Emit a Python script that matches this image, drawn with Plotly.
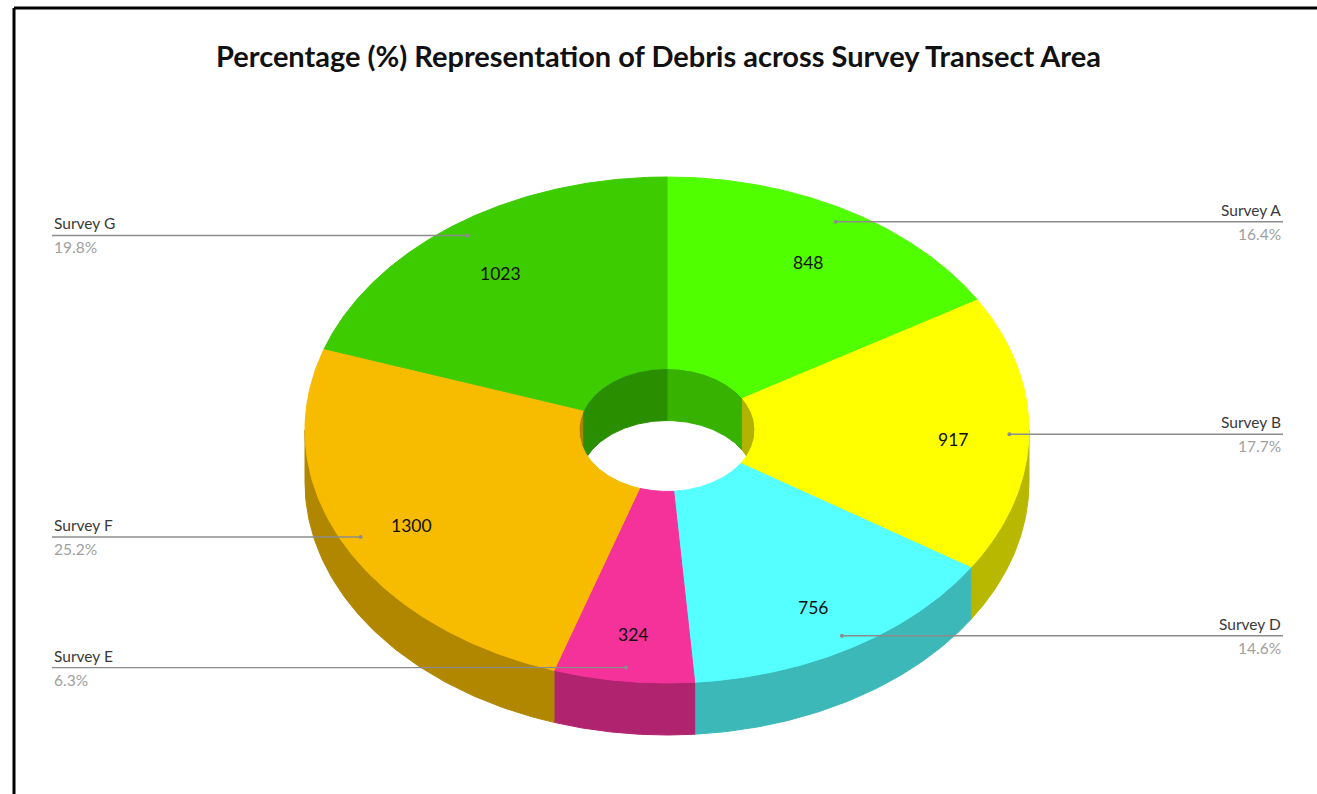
import numpy as np
import plotly.graph_objects as go

# Debris counts per survey transect (clockwise from 12 o'clock)
surveys = ["Survey A", "Survey B", "Survey D", "Survey E", "Survey F", "Survey G"]
debris = [848, 917, 756, 324, 1300, 1023]
top_colors = ["#50FF00", "#FFFF00", "#55FFFF", "#F5319A", "#F7BB00", "#3CCC00"]

W, H = 1317, 794
CX, CY = 667, 430          # centre of the donut's top face
RX, RY = 362, 253          # outer radii of the tilted (elliptical) face
HOLE = 0.243               # inner radius as fraction of outer
DEPTH = 52                 # thickness of the extruded ring
SHADE = 0.72               # darkening factor for side walls
LABEL_R = 0.79             # radius fraction for value labels
LABEL_DY = 6               # downward nudge of value labels
LEADER_R = 0.946           # radius fraction for leader-line anchors
LEFT_X, RIGHT_X = 52, 1283

total = sum(debris)
bounds = np.concatenate([[0.0], np.cumsum(debris) / total]) * 360.0


def pt(theta, r, dz=0.0):
    t = np.radians(theta)
    return CX + r * RX * np.sin(t), CY - r * RY * np.cos(t) + dz


def shade(hexcol, f=SHADE):
    h = hexcol.lstrip("#")
    rgb = [int(h[i:i + 2], 16) for i in (0, 2, 4)]
    return "#" + "".join(f"{int(round(c * f)):02X}" for c in rgb)


def wall(lo, hi, r):
    ts = np.linspace(lo, hi, 80)
    x1, y1 = pt(ts, r)
    x2, y2 = pt(ts[::-1], r, DEPTH)
    return np.concatenate([x1, x2, x1[:1]]), np.concatenate([y1, y2, y1[:1]])


def poly(x, y, color):
    return go.Scatter(x=x, y=y, mode="lines", fill="toself", fillcolor=color,
                      line=dict(color=color, width=1), hoverinfo="skip",
                      showlegend=False)


fig = go.Figure()

# back half of the inner (hole) wall
for i, col in enumerate(top_colors):
    a0, a1 = bounds[i], bounds[i + 1]
    for lo, hi in ((max(a0, 0), min(a1, 90)), (max(a0, 270), min(a1, 360))):
        if lo < hi:
            x, y = wall(lo, hi, HOLE)
            fig.add_trace(poly(x, y, shade(col, 0.70)))

# front half of the outer wall
for i, col in enumerate(top_colors):
    lo, hi = max(bounds[i], 90), min(bounds[i + 1], 270)
    if lo < hi:
        x, y = wall(lo, hi, 1.0)
        fig.add_trace(poly(x, y, shade(col)))

# top faces (annular sectors)
for i, col in enumerate(top_colors):
    ts = np.linspace(bounds[i], bounds[i + 1], 160)
    xo, yo = pt(ts, 1.0)
    xi, yi = pt(ts[::-1], HOLE)
    fig.add_trace(poly(np.concatenate([xo, xi, xo[:1]]),
                       np.concatenate([yo, yi, yo[:1]]), col))

# value labels and leader lines
annotations = []
for i, (name, val) in enumerate(zip(surveys, debris)):
    mid = (bounds[i] + bounds[i + 1]) / 2
    lx, ly = pt(mid, LABEL_R, LABEL_DY)
    annotations.append(dict(x=lx, y=ly, text=str(val), showarrow=False,
                            font=dict(family="Lato", size=17.5, color="#111111")))
    px, py = pt(mid, LEADER_R)
    left = px < CX
    end_x = LEFT_X if left else RIGHT_X
    fig.add_trace(go.Scatter(x=[px, end_x], y=[py, py], mode="lines",
                             line=dict(color="#8C8C8C", width=1.4),
                             hoverinfo="skip", showlegend=False))
    fig.add_trace(go.Scatter(x=[px], y=[py], mode="markers",
                             marker=dict(color="#8C8C8C", size=4),
                             hoverinfo="skip", showlegend=False))
    anchor = "left" if left else "right"
    annotations.append(dict(x=end_x, y=py - 1, text=name, showarrow=False,
                            xanchor=anchor, yanchor="bottom",
                            font=dict(family="Lato", size=15.5, color="#3A3A3A")))
    annotations.append(dict(x=end_x, y=py + 1, text=f"{val / total * 100:.1f}%",
                            showarrow=False, xanchor=anchor, yanchor="top",
                            font=dict(family="Lato", size=15.5, color="#A0A0A0")))

fig.update_layout(
    width=W, height=H,
    margin=dict(l=0, r=0, t=0, b=0),
    paper_bgcolor="white", plot_bgcolor="white",
    title=dict(text="<b>Percentage (%) Representation of Debris across Survey Transect Area</b>",
               x=0.5, xanchor="center", y=1 - 57 / H, yanchor="middle",
               font=dict(family="Lato", size=29, color="#111111")),
    xaxis=dict(range=[0, W], visible=False, fixedrange=True),
    yaxis=dict(range=[H, 0], visible=False, fixedrange=True),
    annotations=annotations,
    shapes=[
        dict(type="line", x0=14, y0=8, x1=W, y1=8, line=dict(color="black", width=3)),
        dict(type="line", x0=14, y0=8, x1=14, y1=H, line=dict(color="black", width=3)),
    ],
)

fig.write_html("out.html")
